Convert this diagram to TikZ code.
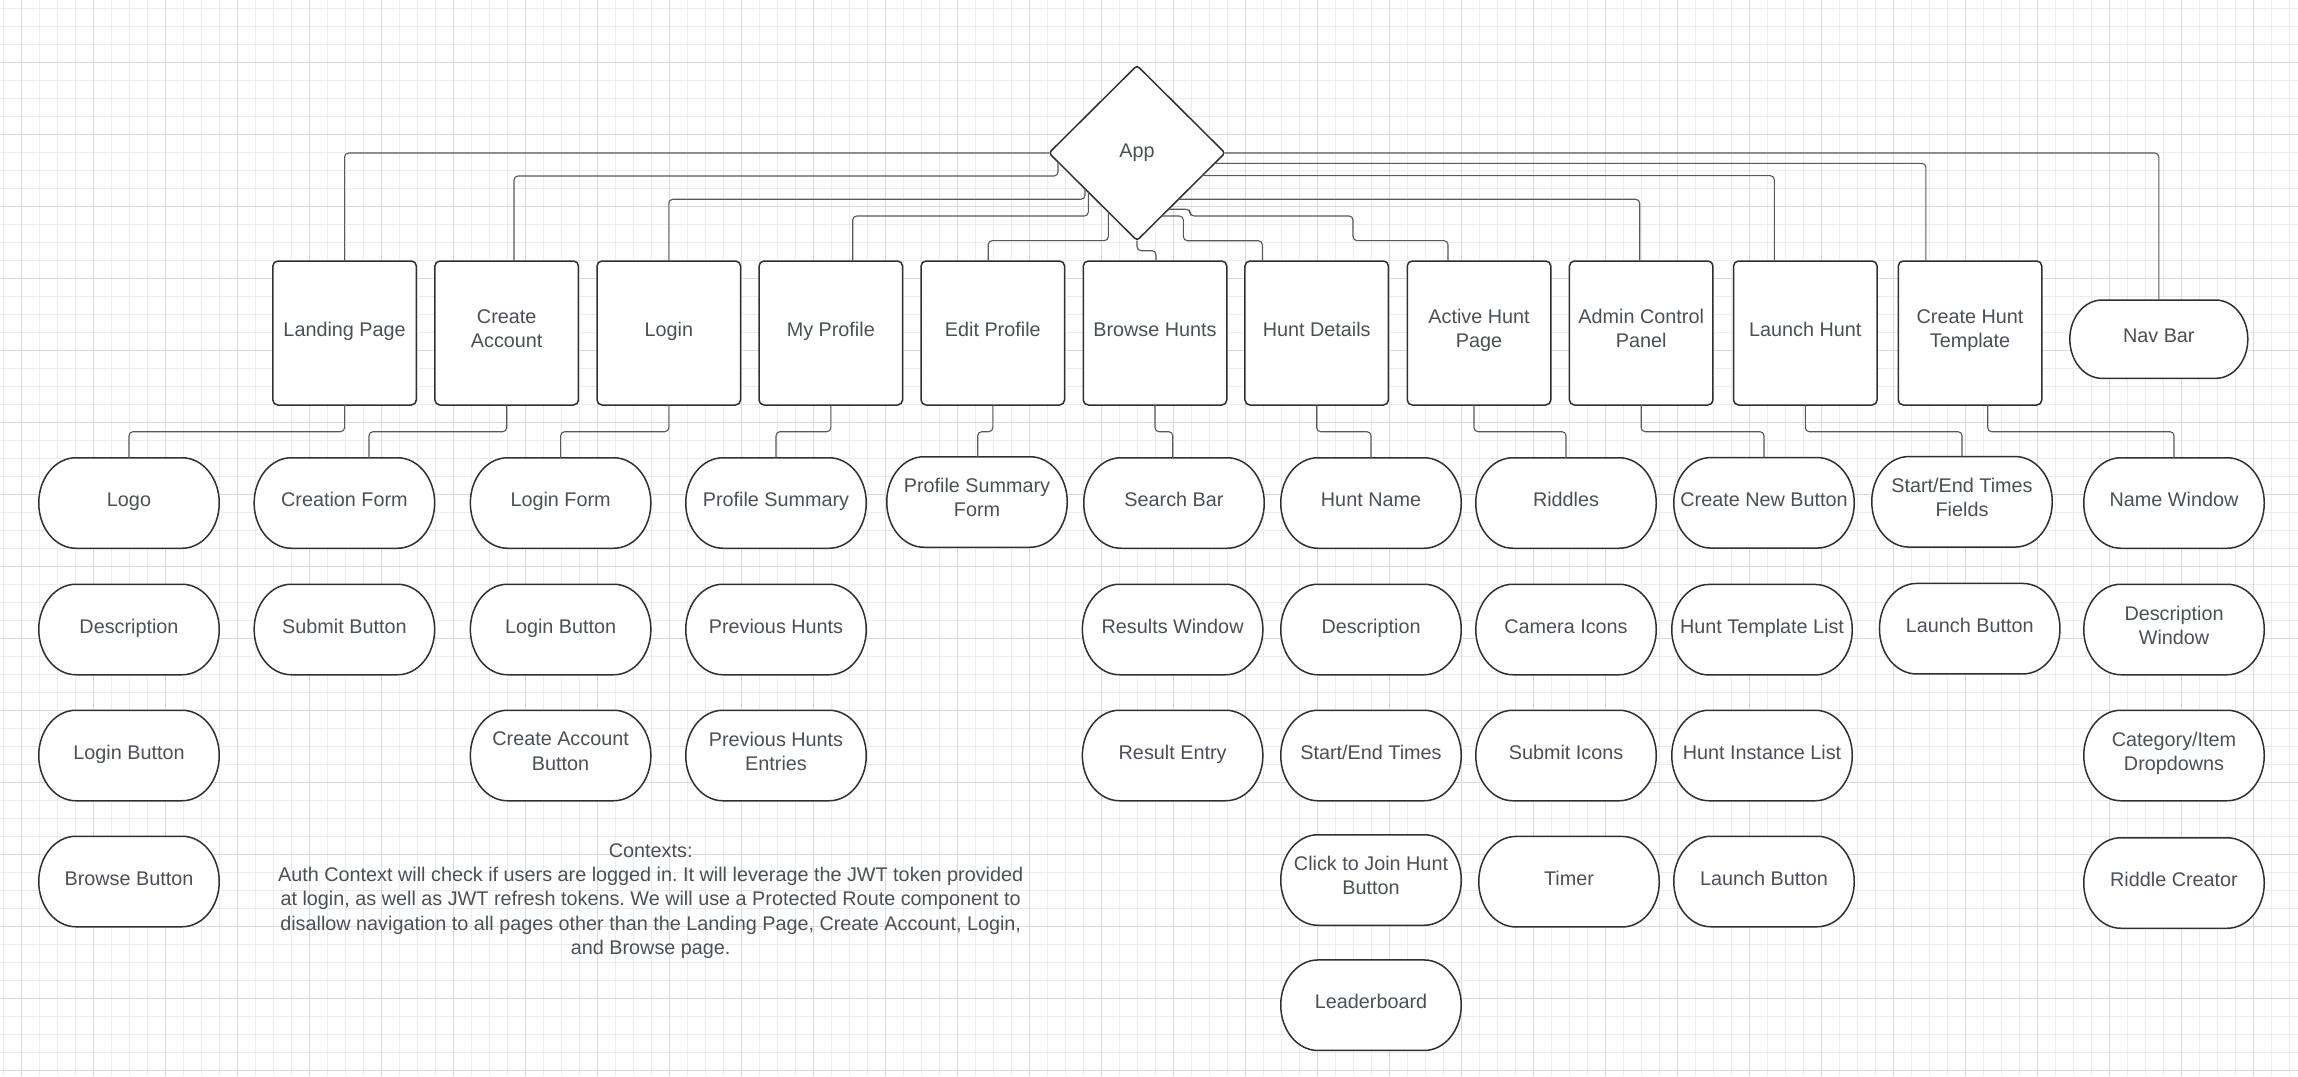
\documentclass[tikz,border=0pt]{standalone}
\usepackage{fontspec}
\setmainfont{Liberation Sans}
\frenchspacing
\usetikzlibrary{shapes.geometric,calc}
\definecolor{gridminor}{HTML}{ECECEC}
\definecolor{gridmajor}{HTML}{DADADA}
\definecolor{edgecol}{HTML}{2E3034}
\definecolor{conncol}{HTML}{55585C}
\definecolor{textcol}{HTML}{4B5057}
\newcommand\labelfont{\fontsize{19.8}{24.3}\selectfont}
\newcommand\labeltop{\rule{0pt}{16pt}}
\newcommand\labelbot{\rule[-9pt]{0pt}{9pt}}
\tikzset{
  minorgrid/.style={draw=gridminor,line width=1pt},
  majorgrid/.style={draw=gridmajor,line width=1pt},
  pillline/.style={draw=edgecol,line width=1.5pt,fill=white},
  strutted/.style={execute at begin node=\labeltop,execute at end node=\labelbot},
  pilltext/.style={inner sep=0pt,outer sep=0pt,text=textcol,align=center,font=\labelfont,strutted},
  topbox/.style={draw=edgecol,line width=1.5pt,fill=white,rounded corners=5pt,
    minimum width=143.5pt,minimum height=144pt,inner sep=0pt,outer sep=0pt,
    text=textcol,align=center,font=\labelfont,strutted},
  appshape/.style={shape=diamond,draw=edgecol,line width=1.5pt,fill=white,rounded corners=3pt,
    minimum width=176pt,minimum height=175pt,inner sep=0pt,outer sep=0pt,
    text=textcol,font=\labelfont},
  conn/.style={draw=conncol,line width=1.1pt,rounded corners=4pt},
  ctxtext/.style={inner sep=0pt,text=textcol,align=center,font=\labelfont}
}
% name, x, y, width, height, text
\newcommand\pill[6]{%
  \pgfmathsetmacro\pillhh{#5/2}%
  \pgfmathsetmacro\pillrx{0.41*#5}%
  \pgfmathsetmacro\pillst{#4/2-0.41*#5}%
  \filldraw[pillline] ({#2-\pillst},{#3-\pillhh}) -- ({#2+\pillst},{#3-\pillhh})
    arc[start angle=90,end angle=-90,x radius=\pillrx pt,y radius=\pillhh pt]
    -- ({#2-\pillst},{#3+\pillhh})
    arc[start angle=270,end angle=90,x radius=\pillrx pt,y radius=\pillhh pt] -- cycle;
  \node[pilltext,minimum width=#4pt,minimum height=#5pt] (#1) at (#2,#3) {#6};
}
\begin{document}
\begin{tikzpicture}[x=1pt,y=-1pt]
\useasboundingbox (0,0) rectangle (2298,1076);
\fill[white] (0,0) rectangle (2298,1076);
% grid
\foreach \k in {0,...,127} \draw[minorgrid] ({3.7+18*\k},0) -- ({3.7+18*\k},1076);
\foreach \k in {0,...,59} \draw[minorgrid] (0,{8.3+18*\k}) -- (2298,{8.3+18*\k});
\foreach \k in {0,...,31} \draw[majorgrid] ({21.7+72*\k},0) -- ({21.7+72*\k},1076);
\foreach \k in {0,...,14} \draw[majorgrid] (0,{62.3+72*\k}) -- (2298,{62.3+72*\k});

% root
\node[appshape] (app) at (1137,153) {App};

% top row
\node[topbox] (lp) at (344.6,333) {Landing Page};
\node[topbox] (ca) at (506.7,333) {Create\\Account};
\node[topbox] (lg) at (668.8,333) {Login};
\node[topbox] (mp) at (830.8,333) {My Profile};
\node[topbox] (ep) at (992.8,333) {Edit Profile};
\node[topbox] (bh) at (1155,333) {Browse Hunts};
\node[topbox] (hd) at (1316.7,333) {Hunt Details};
\node[topbox] (ah) at (1479,333) {Active Hunt\\Page};
\node[topbox] (ac) at (1641.2,333) {Admin Control\\Panel};
\node[topbox] (lh) at (1805.3,333) {Launch Hunt};
\node[topbox] (ct) at (1970,333) {Create Hunt\\Template};
\pill{nb}{2158.8}{339.2}{178}{78.3}{Nav Bar}

% children
\pill{logo}{129}{503}{180.5}{90.5}{Logo}
\pill{dsca}{129}{629.5}{180.5}{90.5}{Description}
\pill{lgba}{129}{755.5}{180.5}{90.5}{Login Button}
\pill{brb}{129}{881.5}{180.5}{90.5}{Browse Button}
\pill{cf}{344.4}{503}{180.5}{90.5}{Creation Form}
\pill{sbt}{344.4}{629.5}{180.5}{90.5}{Submit Button}
\pill{lf}{560.6}{503}{180.5}{90.5}{Login Form}
\pill{lgbb}{560.6}{629.5}{180.5}{90.5}{Login Button}
\pill{cab}{560.6}{755.5}{180.5}{90.5}{Create Account\\Button}
\pill{ps}{776}{503}{180.5}{90.5}{Profile Summary}
\pill{ph}{776}{629.5}{180.5}{90.5}{Previous Hunts}
\pill{phe}{776}{755.5}{180.5}{90.5}{Previous Hunts\\Entries}
\pill{psf}{977}{502}{180.5}{90.5}{Profile Summary\\Form}
\pill{sb}{1174}{503}{180.5}{90.5}{Search Bar}
\pill{rw}{1172.6}{629.5}{180.5}{90.5}{Results Window}
\pill{re}{1172.6}{755.5}{180.5}{90.5}{Result Entry}
\pill{hn}{1371}{503}{180.5}{90.5}{Hunt Name}
\pill{dscb}{1371}{629.5}{180.5}{90.5}{Description}
\pill{sete}{1371}{755.5}{180.5}{90.5}{Start/End Times}
\pill{cjh}{1371}{880}{180.5}{90.5}{Click to Join Hunt\\Button}
\pill{ldb}{1371}{1005.2}{180.5}{90.5}{Leaderboard}
\pill{rd}{1566}{503}{180.5}{90.5}{Riddles}
\pill{cam}{1566}{629.5}{180.5}{90.5}{Camera Icons}
\pill{sbi}{1566}{755.5}{180.5}{90.5}{Submit Icons}
\pill{tmr}{1569}{881.7}{180.5}{90.5}{Timer}
\pill{cnb}{1764}{502.8}{180.5}{90.5}{Create New Button}
\pill{htl}{1762}{629.7}{180.5}{90.5}{Hunt Template List}
\pill{hil}{1762}{755.5}{180.5}{90.5}{Hunt Instance List}
\pill{lnba}{1764}{881.5}{180.5}{90.5}{Launch Button}
\pill{setf}{1962}{501.8}{180.5}{90.5}{Start/End Times\\Fields}
\pill{lnbb}{1969.7}{628.7}{180.5}{90.5}{Launch Button}
\pill{nw}{2174}{503}{180.5}{90.5}{Name Window}
\pill{dw}{2174}{629.5}{180.5}{90.5}{Description\\Window}
\pill{cid}{2174}{755.5}{180.5}{90.5}{Category/Item\\Dropdowns}
\pill{rc}{2174}{883}{180.5}{90.5}{Riddle Creator}

% connectors from App
\draw[conn] (app.west) -| (lp.north);
\draw[conn] ($(app.west)!0.102!(app.south)$) -- ++(0,14.1) -| ([xshift=7.3pt]ca.north);
\draw[conn] ($(app.west)!0.409!(app.south)$) -- ++(0,10.5) -| (lg.north);
\draw[conn] ($(app.west)!0.447!(app.south)$) -- ++(0,23.9) -| ([xshift=21.9pt]mp.north);
\draw[conn] ($(app.west)!0.674!(app.south)$) -- ++(0,28.7) -| ([xshift=-4.6pt]ep.north);
\draw[conn] (app.south) -- ++(0,10.2) -| ([xshift=1pt]bh.north);
\draw[conn] ($(app.east)!0.72!(app.south)$) -- ++(21.7,0) -- ++(0,24.7) -| ([xshift=-54.4pt]hd.north);
\draw[conn] ($(app.east)!0.643!(app.south)$) -- ++(21.6,0) -- ++(0,6.7) -- ++(163,0) -- ++(0,24.7) -| ([xshift=-31pt]ah.north);
\draw[conn] ($(app.east)!0.529!(app.south)$) -| ([xshift=-1.5pt]ac.north);
\draw[conn] ($(app.east)!0.259!(app.south)$) -| ([xshift=-31pt]lh.north);
\draw[conn] ($(app.east)!0.118!(app.south)$) -| ([xshift=-44.1pt]ct.north);
\draw[conn] (app.east) -| (nb.north);

% connectors to children
\draw[conn] (lp.south) -- ++(0,26.7) -| (logo.north);
\draw[conn] (ca.south) -- ++(0,26.7) -| ([xshift=24.6pt]cf.north);
\draw[conn] (lg.south) -- ++(0,26.7) -| (lf.north);
\draw[conn] (mp.south) -- ++(0,26.7) -| (ps.north);
\draw[conn] (ep.south) -- ++(0,26.7) -| ([xshift=0.7pt]psf.north);
\draw[conn] (bh.south) -- ++(0,26.7) -| ([xshift=-1.3pt]sb.north);
\draw[conn] (hd.south) -- ++(0,26.7) -| (hn.north);
\draw[conn] ([xshift=-5pt]ah.south) -- ++(0,26.7) -| (rd.north);
\draw[conn] (ac.south) -- ++(0,26.7) -| (cnb.north);
\draw[conn] (lh.south) -- ++(0,26.7) -| (setf.north);
\draw[conn] ([xshift=17.7pt]ct.south) -- ++(0,26.7) -| (nw.north);

% note
\node[ctxtext] (ctx) at (650.7,901) {Contexts:\\
Auth Context will check if users are logged in. It will leverage the JWT token provided\\
at login, as well as JWT refresh tokens. We will use a Protected Route component to\\
disallow navigation to all pages other than the Landing Page, Create Account, Login,\\
and Browse page.};
\end{tikzpicture}
\end{document}
